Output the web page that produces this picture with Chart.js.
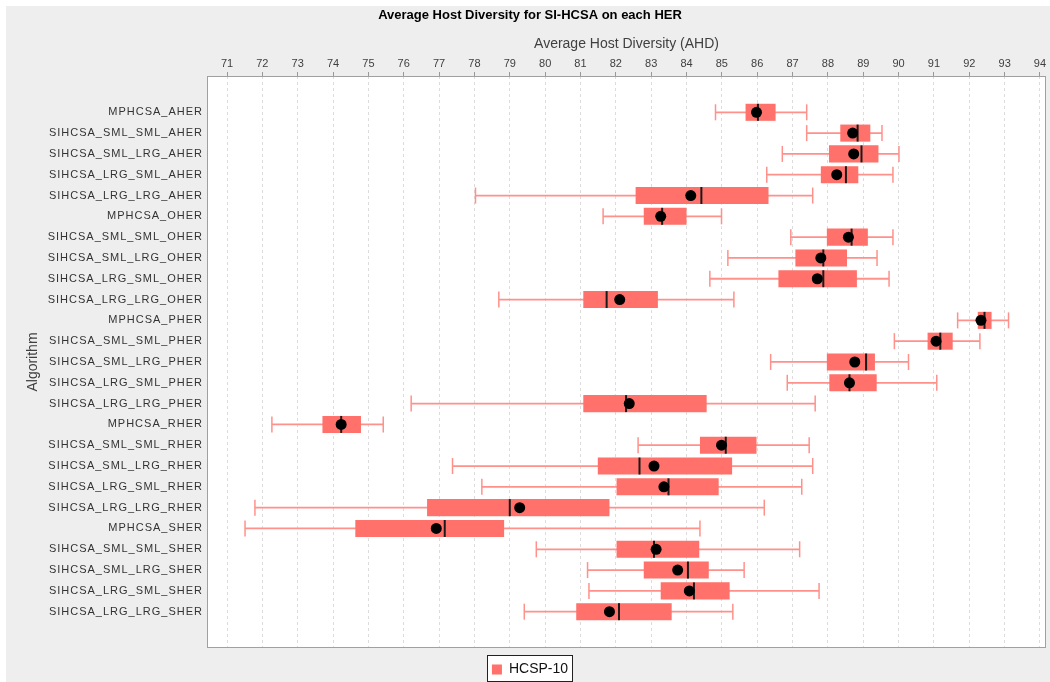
<!DOCTYPE html>
<html>
<head>
<meta charset="utf-8">
<script src="https://cdn.jsdelivr.net/npm/chart.js@4"></script>
<style>
  body { margin: 0; background: #fff; }
  canvas { display: block; }
</style>
</head>
<body>
<canvas id="hostChart" width="1050" height="682"></canvas>
<script>
var algorithms = [
    'MPHCSA_AHER', 'SIHCSA_SML_SML_AHER', 'SIHCSA_SML_LRG_AHER', 'SIHCSA_LRG_SML_AHER', 'SIHCSA_LRG_LRG_AHER',
    'MPHCSA_OHER', 'SIHCSA_SML_SML_OHER', 'SIHCSA_SML_LRG_OHER', 'SIHCSA_LRG_SML_OHER', 'SIHCSA_LRG_LRG_OHER',
    'MPHCSA_PHER', 'SIHCSA_SML_SML_PHER', 'SIHCSA_SML_LRG_PHER', 'SIHCSA_LRG_SML_PHER', 'SIHCSA_LRG_LRG_PHER',
    'MPHCSA_RHER', 'SIHCSA_SML_SML_RHER', 'SIHCSA_SML_LRG_RHER', 'SIHCSA_LRG_SML_RHER', 'SIHCSA_LRG_LRG_RHER',
    'MPHCSA_SHER', 'SIHCSA_SML_SML_SHER', 'SIHCSA_SML_LRG_SHER', 'SIHCSA_LRG_SML_SHER', 'SIHCSA_LRG_LRG_SHER'
];
var whiskerLow  = [84.82, 87.40, 86.71, 86.27, 78.03, 81.64, 86.95, 85.17, 84.66, 78.69, 91.67, 89.88, 86.38, 86.85, 76.21, 72.27, 82.63, 77.38, 78.21, 71.79, 71.51, 79.75, 81.20, 81.24, 79.41];
var q1          = [85.67, 88.35, 88.03, 87.80, 82.56, 82.79, 87.97, 87.08, 86.60, 81.08, 92.24, 90.82, 87.97, 88.04, 81.08, 73.70, 84.38, 81.49, 82.02, 76.66, 74.63, 82.02, 82.79, 83.27, 80.88];
var medians     = [86.02, 88.84, 88.95, 88.51, 84.42, 83.31, 88.67, 87.87, 87.87, 81.74, 92.43, 91.18, 89.08, 88.61, 82.29, 74.23, 85.11, 82.67, 83.49, 79.00, 77.16, 83.08, 84.04, 84.21, 82.09];
var q3          = [86.52, 89.20, 89.43, 88.86, 86.32, 84.00, 89.13, 88.54, 88.82, 83.19, 92.63, 91.53, 89.33, 89.38, 84.57, 74.79, 85.98, 85.29, 84.91, 81.82, 78.84, 84.36, 84.63, 85.22, 83.58];
var whiskerHigh = [87.40, 89.53, 90.01, 89.84, 87.57, 84.99, 89.84, 89.39, 89.73, 85.34, 93.11, 92.30, 90.28, 91.08, 87.64, 75.42, 87.47, 87.57, 87.26, 86.20, 84.38, 87.20, 85.63, 87.75, 85.31];
var means       = [85.98, 88.70, 88.73, 88.25, 84.12, 83.27, 88.58, 87.80, 87.70, 82.11, 92.33, 91.06, 88.76, 88.61, 82.38, 74.23, 84.99, 83.08, 83.36, 79.28, 76.92, 83.14, 83.75, 84.08, 81.82];
var xTicks = [71, 72, 73, 74, 75, 76, 77, 78, 79, 80, 81, 82, 83, 84, 85, 86, 87, 88, 89, 90, 91, 92, 93, 94];
var seriesName = 'HCSP-10';

var boxColor = '#ff716a';
var whiskerColor = '#ff918b';

Chart.defaults.font.family = "'Liberation Sans', Arial, sans-serif";
Chart.defaults.color = '#404040';

var whiskerData = algorithms.map(function (a, i) { return { x: [whiskerLow[i], whiskerHigh[i]], y: i }; });
var boxData = algorithms.map(function (a, i) { return { x: [q1[i], q3[i]], y: i }; });
var capData = [];
algorithms.forEach(function (a, i) {
    capData.push({ x: whiskerLow[i], y: i });
    capData.push({ x: whiskerHigh[i], y: i });
});
var medianData = algorithms.map(function (a, i) { return { x: medians[i], y: i }; });
var meanData = algorithms.map(function (a, i) { return { x: means[i], y: i }; });

// no label overflow padding, the plot box is set by hand
var noPad = function (scale) {
    scale.paddingLeft = 0;
    scale.paddingRight = 0;
    scale.paddingTop = 0;
    scale.paddingBottom = 0;
};

// gray page, white plot, plot outline, legend frame
const framePlugin = {
    id: 'frame',
    beforeDraw: function (chart) {
        var c = chart.ctx;
        var a = chart.chartArea;
        c.save();
        c.fillStyle = '#ffffff';
        c.fillRect(0, 0, chart.width, chart.height);
        c.fillStyle = '#eeeeee';
        c.fillRect(6, 6, chart.width - 6, chart.height - 6);
        c.fillStyle = '#ffffff';
        c.fillRect(a.left, a.top, a.right - a.left, a.bottom - a.top);
        var hb = chart.legend.legendHitBoxes[0];
        if (hb) {
            c.fillRect(hb.left - 4.5, hb.top - 7.5, hb.width + 9, hb.height + 12);
            c.strokeStyle = '#222';
            c.lineWidth = 1;
            c.strokeRect(Math.round(hb.left - 4.5) + 0.5, Math.round(hb.top - 7.5) + 0.5, Math.round(hb.width + 9), Math.round(hb.height + 12));
        }
        c.restore();

        // wider letter spacing only on the category labels
        var ys = chart.scales.y;
        if (!ys._spaced) {
            var orig = ys.drawLabels;
            ys.drawLabels = function (area) {
                this.ctx.save();
                this.ctx.letterSpacing = '1px';
                orig.call(this, area);
                this.ctx.restore();
            };
            ys._spaced = true;
        }
    },
    afterDraw: function (chart) {
        var c = chart.ctx;
        var a = chart.chartArea;
        c.save();
        c.strokeStyle = '#a0a0a0';
        c.lineWidth = 1;
        c.strokeRect(Math.round(a.left) + 0.5, Math.round(a.top) + 0.5, Math.round(a.right - a.left) - 1, Math.round(a.bottom - a.top) - 1);
        c.restore();
    }
};

var ctx = document.getElementById('hostChart');

var myChart = new Chart(ctx, {
    type: 'bar',
    data: {
        datasets: [
            {
                label: 'whisker',
                data: whiskerData,
                backgroundColor: whiskerColor,
                borderWidth: 0,
                grouped: false,
                categoryPercentage: 1,
                barPercentage: 0.085,
                order: 4
            },
            {
                label: 'caps',
                type: 'scatter',
                data: capData,
                pointStyle: 'line',
                rotation: 90,
                pointRadius: 8,
                borderColor: whiskerColor,
                borderWidth: 1.5,
                order: 3
            },
            {
                label: seriesName,
                data: boxData,
                backgroundColor: boxColor,
                borderColor: boxColor,
                borderWidth: 0,
                grouped: false,
                categoryPercentage: 1,
                barPercentage: 0.82,
                order: 2
            },
            {
                label: 'median',
                type: 'scatter',
                data: medianData,
                pointStyle: 'line',
                rotation: 90,
                pointRadius: 8.5,
                borderColor: '#1a1a1a',
                borderWidth: 2,
                order: 1
            },
            {
                label: 'mean',
                type: 'scatter',
                data: meanData,
                pointStyle: 'circle',
                pointRadius: 5.5,
                backgroundColor: '#000',
                borderWidth: 0,
                order: 0
            }
        ]
    },
    options: {
        indexAxis: 'y',
        responsive: false,
        animation: false,
        events: [],
        layout: { autoPadding: false, padding: { top: 6, left: 14, right: 4, bottom: -4.5 } },
        scales: {
            x: {
                type: 'linear',
                position: 'top',
                min: 70.434,
                max: 94.17,
                afterBuildTicks: function (scale) {
                    scale.ticks = xTicks.map(function (v) { return { value: v }; });
                },
                afterFit: function (scale) { scale.height = 50.4; noPad(scale); },
                ticks: { font: { size: 11 }, color: '#404040', padding: 1, maxRotation: 0, autoSkip: false },
                grid: { color: '#dcdcdc', drawTicks: true, tickLength: 4, tickColor: '#999', tickBorderDash: [] },
                border: { display: false, dash: [3, 3] },
                title: {
                    display: true,
                    text: 'Average Host Diversity (AHD)',
                    font: { size: 14 },
                    color: '#404040',
                    padding: { top: 10, bottom: 0 }
                }
            },
            y: {
                type: 'linear',
                position: 'left',
                reverse: true,
                offset: false,
                min: -1.744,
                max: 25.745,
                afterBuildTicks: function (scale) {
                    scale.ticks = algorithms.map(function (a, i) { return { value: i }; });
                },
                afterFit: function (scale) { scale.width = 193; noPad(scale); },
                ticks: {
                    font: { size: 11 },
                    color: '#333',
                    padding: 4,
                    autoSkip: false,
                    callback: function (value) { return algorithms[value]; }
                },
                grid: { display: false, drawTicks: false, offset: false },
                border: { display: false },
                title: {
                    display: true,
                    text: 'Algorithm',
                    font: { size: 14 },
                    color: '#404040',
                    padding: { top: 10.6, bottom: 0 }
                }
            }
        },
        plugins: {
            title: {
                display: true,
                text: 'Average Host Diversity for SI-HCSA on each HER',
                font: { size: 13, weight: 'bold' },
                color: '#000',
                padding: { top: 2, bottom: 2 }
            },
            legend: {
                position: 'bottom',
                labels: {
                    boxWidth: 10,
                    boxHeight: 10,
                    padding: 14.5,
                    color: '#111',
                    font: { size: 14 },
                    filter: function (item) { return item.text === seriesName; }
                }
            },
            tooltip: { enabled: false }
        }
    },
    plugins: [framePlugin]
});
</script>
</body>
</html>
